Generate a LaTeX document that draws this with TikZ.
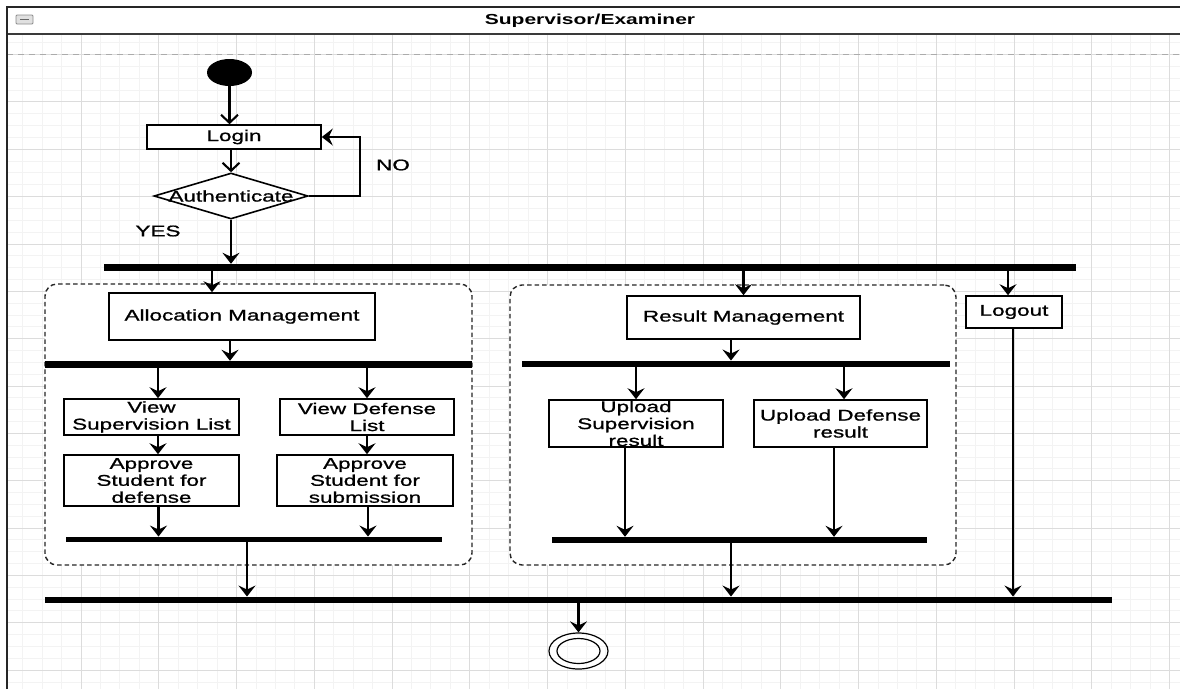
\documentclass[tikz,border=0pt]{standalone}
\usepackage{fontspec}
\usetikzlibrary{shapes.geometric,arrows.meta,calc}
\newfontfamily\diagfont[FakeStretch=1.45,FakeBold=1]{Liberation Sans}
\newfontfamily\titlefont[FakeStretch=1.45]{Liberation Sans Bold}
\definecolor{gridminor}{HTML}{F3F3F3}
\definecolor{gridmajor}{HTML}{DCDCDC}
\definecolor{framegray}{HTML}{3A3A3A}
\definecolor{laneline}{HTML}{ABABAB}

\begin{document}
\begin{tikzpicture}[x=1pt,y=-1pt,
  lab/.style={font=\diagfont\fontsize{15.5}{17}\selectfont},
  box/.style={draw=black, line width=1.6pt, fill=white, inner sep=0pt, align=center, lab},
  bar/.style={fill=black, draw=none, inner sep=0pt},
  arr/.style={line width=2.1pt, -{Stealth[length=11pt,width=17pt,inset=4pt]}},
  barb/.style={line width=2.1pt, -{Straight Barb[length=8pt,width=17pt]}},
  region/.style={draw=black!85, line width=1.4pt, dash pattern=on 4.5pt off 3pt,
    rounded corners=12pt, fill=white, inner sep=0pt},
]
\useasboundingbox (0,0) rectangle (1180,689);
\fill[white] (0,0) rectangle (1180,689);

% background grid of the swimlane
\begin{scope}
  \clip (7,34) rectangle (1180,689);
  \foreach \i in {0,...,61}
    \draw[gridminor, line width=0.8pt] ({3.25+19.4375*\i},34) -- ++(0,655);
  \foreach \j in {-2,...,56}
    \draw[gridminor, line width=0.8pt] (7,{54.5+11.8375*\j}) -- ++(1173,0);
  \foreach \i in {0,...,15}
    \draw[gridmajor, line width=0.8pt] ({3.25+77.75*\i},34) -- ++(0,655);
  \foreach \j in {0,...,14}
    \draw[gridmajor, line width=0.8pt] (7,{54.5+47.35*\j}) -- ++(1173,0);
\end{scope}
\draw[laneline, line width=1pt, dash pattern=on 6pt off 5pt] (7,54.5) -- (1180,54.5);

% swimlane header
\fill[white] (7,7) rectangle (1180,34);
\draw[framegray, line width=1.5pt] (7,34) -- (1180,34);
\draw[black!85, line width=2pt] (7,689) -- (7,7) -- (1180,7);
\draw[black!45, fill=black!12, rounded corners=1pt, line width=0.8pt] (16,15) rectangle (33,24);
\draw[black!60, line width=1.5pt] (20,19.5) -- (29,19.5);
\node[font=\titlefont\fontsize{14.5}{17}\selectfont] (title) at (590,20.5) {Supervisor/Examiner};

% grouping regions
\node[region, minimum width=427pt, minimum height=281pt] (allocRegion) at (258.5,424.5) {};
\node[region, minimum width=446pt, minimum height=280pt] (resRegion) at (733,425) {};

% start, login and authentication
\node[ellipse, fill=black, minimum width=45pt, minimum height=27pt, inner sep=0pt] (start) at (229.5,72.5) {};
\node[box, minimum width=174pt, minimum height=24pt] (login) at (234,137) {Login};
\node[diamond, draw=black, line width=1.6pt, fill=white, inner sep=0pt,
  minimum width=154pt, minimum height=46pt, label={[lab]center:Authenticate}] (auth) at (231,196) {};
\node[lab] (no) at (393,165) {NO};
\node[lab] (yes) at (158,231) {YES};

% activities
\node[box, minimum width=266pt, minimum height=47pt] (alloc) at (242,316.5) {Allocation Management};
\node[box, minimum width=175pt, minimum height=36pt] (vsl) at (151.5,417) {View\\Supervision List};
\node[box, minimum width=174pt, minimum height=36pt] (vdl) at (367,417) {View Defense\\List};
\node[box, minimum width=175pt, minimum height=51pt] (asd) at (151.5,480.5) {Approve\\Student for\\defense};
\node[box, minimum width=176pt, minimum height=51pt] (ass) at (365,480.5) {Approve\\Student for\\submission};
\node[box, minimum width=233pt, minimum height=43pt] (res) at (743.5,317.5) {Result Management};
\node[box, minimum width=174pt, minimum height=47pt] (usr) at (636,423.5) {Upload\\Supervision\\result};
\node[box, minimum width=173pt, minimum height=47pt] (udr) at (840.5,423.5) {Upload Defense\\result};
\node[box, minimum width=96pt, minimum height=32pt] (logout) at (1014,312) {Logout};

% fork and join bars
\node[bar, minimum width=972pt, minimum height=7pt] (forkTop) at (590,267.5) {};
\node[bar, minimum width=427pt, minimum height=7pt] (allocFork) at (258.5,364.5) {};
\node[bar, minimum width=376pt, minimum height=5.5pt] (allocJoin) at (254,539.5) {};
\node[bar, minimum width=428pt, minimum height=6.5pt] (resFork) at (736,364) {};
\node[bar, minimum width=375pt, minimum height=6pt] (resJoin) at (739.5,540) {};
\node[bar, minimum width=1067pt, minimum height=6.5pt] (joinMain) at (578.5,600) {};

% final state
\node[ellipse, draw=black, line width=1.2pt, minimum width=59pt, minimum height=36pt, inner sep=0pt] (end) at (578.5,651) {};
\draw[line width=1.2pt] (end.center) ellipse [x radius=21.5pt, y radius=12.5pt];

% connector attachment points
\coordinate (inAlloc) at ([xshift=-30pt]alloc.north);
\coordinate (inLogout) at ([xshift=-6pt]logout.north);
\coordinate (outAlloc) at ([xshift=-12pt]alloc.south);
\coordinate (inVsl) at ([xshift=6.5pt]vsl.north);
\coordinate (outVsl) at ([xshift=6.5pt]vsl.south);
\coordinate (outAsd) at ([xshift=7pt]asd.south);
\coordinate (outAss) at ([xshift=3pt]ass.south);
\coordinate (outAllocJoin) at ([xshift=-7pt]allocJoin.south);
\coordinate (outRes) at ([xshift=-12.5pt]res.south);
\coordinate (inUdr) at ([xshift=3.5pt]udr.north);
\coordinate (outUsr) at ([xshift=-11pt]usr.south);
\coordinate (outUdr) at ([xshift=-6.5pt]udr.south);
\coordinate (outResJoin) at ([xshift=-8.5pt]resJoin.south);
\coordinate (outLogout) at ([xshift=-1pt]logout.south);
\coordinate (noTurn) at ([xshift=38pt]login.east);

% connectors
\draw[barb] (start.south) -- (start.south |- login.north);
\draw[barb] (login.south -| auth.north) -- (auth.north);
\draw[arr] (auth.east) -| (noTurn) -- (login.east);
\draw[arr] (auth.south) -- (auth.south |- forkTop.north);
\draw[arr] (inAlloc |- forkTop.south) -- (inAlloc);
\draw[arr] (res.north |- forkTop.south) -- (res.north);
\draw[arr] (inLogout |- forkTop.south) -- (inLogout);
\draw[arr] (outAlloc) -- (outAlloc |- allocFork.north);
\draw[arr] (inVsl |- allocFork.south) -- (inVsl);
\draw[arr] (vdl.north |- allocFork.south) -- (vdl.north);
\draw[arr] (outVsl) -- (outVsl |- asd.north);
\draw[arr] (vdl.south) -- (vdl.south |- ass.north);
\draw[arr] (outAsd) -- (outAsd |- allocJoin.north);
\draw[arr] (outAss) -- (outAss |- allocJoin.north);
\draw[arr] (outAllocJoin) -- (outAllocJoin |- joinMain.north);
\draw[arr] (outRes) -- (outRes |- resFork.north);
\draw[arr] (usr.north |- resFork.south) -- (usr.north);
\draw[arr] (inUdr |- resFork.south) -- (inUdr);
\draw[arr] (outUsr) -- (outUsr |- resJoin.north);
\draw[arr] (outUdr) -- (outUdr |- resJoin.north);
\draw[arr] (outResJoin) -- (outResJoin |- joinMain.north);
\draw[arr] (outLogout) -- (outLogout |- joinMain.north);
\draw[arr] (joinMain.south) -- (end.north);
\end{tikzpicture}
\end{document}
